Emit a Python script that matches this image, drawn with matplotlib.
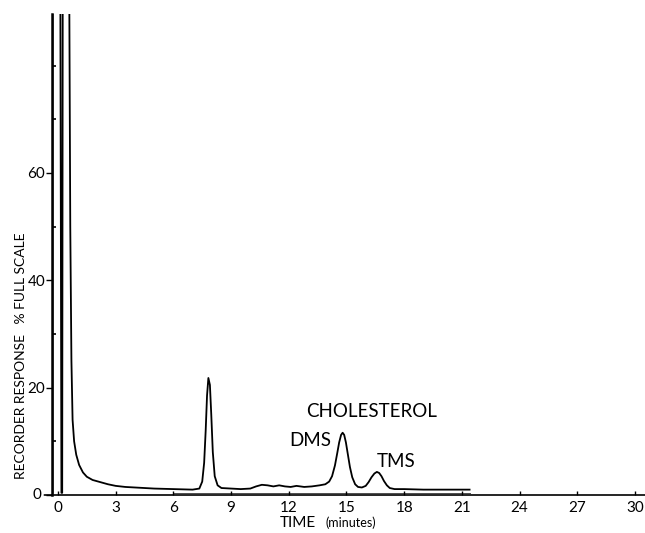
import matplotlib
matplotlib.use("Agg")
import matplotlib.pyplot as plt
from matplotlib.ticker import FixedLocator

plt.rcParams['font.family'] = ['Lato', 'DejaVu Sans']

# Chromatogram trace (time in minutes, % full scale)
time_min = [-0.28, -0.28, 0.12, 0.18, 0.22, 0.25, 0.58, 0.64, 0.70, 0.76, 0.84, 0.95,
            1.1, 1.3, 1.5, 1.8, 2.2, 2.6, 3.0, 3.5, 4.0, 5.0, 6.0, 7.0, 7.35, 7.5, 7.6,
            7.68, 7.75, 7.82, 7.9, 7.97, 8.05, 8.15, 8.3, 8.5, 9.0, 9.5, 10.0, 10.3,
            10.6, 10.9, 11.2, 11.5, 11.8, 12.1, 12.4, 12.8, 13.2, 13.6, 13.9, 14.1,
            14.25, 14.4, 14.52, 14.62, 14.72, 14.8, 14.88, 14.97, 15.07, 15.18, 15.3,
            15.45, 15.6, 15.8, 16.0, 16.15, 16.3, 16.45, 16.58, 16.7, 16.82, 16.95,
            17.1, 17.25, 17.5, 18.0, 19.0, 20.0, 21.4]
response = [0.4, 100, 100, 0.4, 0.4, 100, 100, 50, 25, 14, 10, 7.5,
            5.6, 4.2, 3.4, 2.8, 2.4, 2.0, 1.7, 1.5, 1.4, 1.2, 1.1, 1.0, 1.2, 2.5, 6.0,
            12.0, 18.5, 21.8, 20.5, 15.0, 8.0, 3.5, 1.8, 1.3, 1.2, 1.1, 1.2, 1.6,
            1.9, 1.8, 1.6, 1.8, 1.6, 1.5, 1.7, 1.5, 1.6, 1.8, 2.0, 2.5,
            3.5, 5.5, 7.8, 9.8, 11.2, 11.6, 11.2, 9.8, 7.6, 5.2, 3.3,
            2.0, 1.5, 1.4, 1.7, 2.4, 3.3, 4.0, 4.3, 4.1, 3.5, 2.6,
            1.8, 1.3, 1.1, 1.1, 1.0, 1.0, 1.0]

# faint second baseline trace near the axis
base2_time = [6.0, 21.4]
base2_resp = [0.35, 0.35]

x_ticks = [0, 3, 6, 9, 12, 15, 18, 21, 24, 27, 30]
y_major = [0, 20, 40, 60]
y_minor = [10, 30, 50, 70, 80]

peak_labels = ["CHOLESTEROL", "DMS", "TMS"]
peak_label_pos = [(16.3, 15.6), (13.1, 10.2), (17.6, 6.3)]

fig = plt.figure(figsize=(6.45, 5.33), dpi=100)
ax = fig.add_axes([52/645, 38/533, (645-52)/645, (495-14)/533])

ax.plot(time_min, response, color='black', lw=1.3, solid_joinstyle='round')
ax.plot(base2_time, base2_resp, color='black', lw=0.7, alpha=0.7)

ax.set_xlim(-0.31, 30.52)
ax.set_ylim(0, 89.6)

for s in ['top', 'right']:
    ax.spines[s].set_visible(False)
ax.spines['left'].set_linewidth(1.8)
ax.spines['bottom'].set_linewidth(1.2)

ax.xaxis.set_major_locator(FixedLocator(x_ticks))
ax.set_xticklabels([str(t) for t in x_ticks])
ax.yaxis.set_major_locator(FixedLocator(y_major))
ax.set_yticklabels(['' if t == 0 else str(t) for t in y_major])
ax.yaxis.set_minor_locator(FixedLocator(y_minor))

ax.tick_params(axis='x', direction='in', length=3, width=1, labelsize=11, pad=4)
ax.tick_params(axis='y', which='major', direction='out', length=4, width=1, labelsize=11, pad=1)
ax.tick_params(axis='y', which='minor', direction='in', length=3, width=1.2)

# the zero label of the y axis sits a little further out with a lead line
ax.annotate("0", xy=(0, 0), xycoords='axes fraction', xytext=(-7.5, 0),
            textcoords='offset points', ha='right', va='center', fontsize=11,
            arrowprops=dict(arrowstyle='-', lw=1.2, color='black', shrinkA=0, shrinkB=0),
            annotation_clip=False)

for txt, (px, py) in zip(peak_labels, peak_label_pos):
    ax.text(px, py, txt, ha='center', va='center', fontsize=13.5)

fig.text(21/645, (533-356)/533, "RECORDER RESPONSE   % FULL SCALE",
         rotation=90, ha='center', va='center', fontsize=10)
fig.text(280/645, (533-523)/533, "TIME", ha='left', va='center', fontsize=11)
fig.text(326/645, (533-523)/533, "(minutes)", ha='left', va='center', fontsize=9)

fig.savefig("out.png", dpi=100)
